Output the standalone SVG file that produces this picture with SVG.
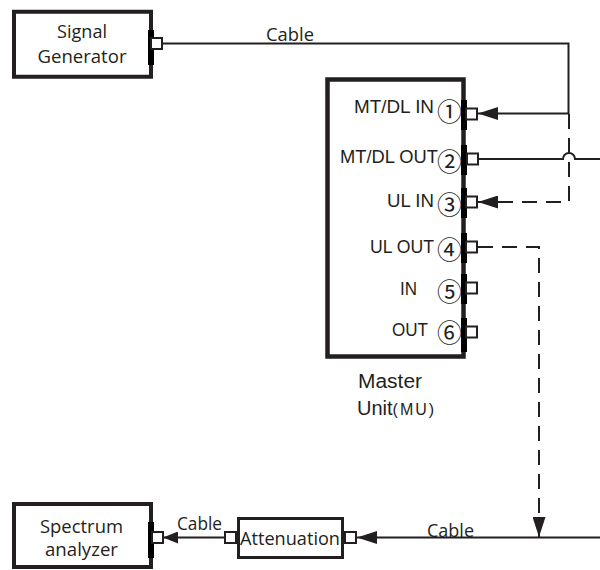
<svg xmlns="http://www.w3.org/2000/svg" width="600" height="570" viewBox="0 0 600 570">
<style>
.box{fill:#fff;stroke:#231f20;stroke-width:4}
.thin{fill:#fff;stroke:#231f20;stroke-width:3}
.port{fill:#fff;stroke:#231f20;stroke-width:2}
.bar{fill:#000}
.ln{fill:none;stroke:#231f20;stroke-width:2}
.dash{fill:none;stroke:#231f20;stroke-width:2;stroke-dasharray:15 9}
.t{font-family:"Open Sans","Liberation Sans",sans-serif;font-size:18px;fill:#231f20}
.a{font-family:"Liberation Sans",Arial,sans-serif;font-size:17.5px;fill:#231f20;text-anchor:end}
.n{font-family:"Noto Sans CJK SC","DejaVu Sans",sans-serif;font-size:25px;fill:#231f20;text-anchor:middle;dominant-baseline:central}
.m{font-family:"Liberation Sans",Arial,sans-serif;font-size:20px;fill:#231f20}
</style>
<defs>
<marker id="arr" markerUnits="userSpaceOnUse" markerWidth="20" markerHeight="13" refX="20" refY="6.5" orient="auto">
<path d="M0,0 L20,6.5 L0,13 z" fill="#231f20"/>
</marker>
<marker id="arrS" markerUnits="userSpaceOnUse" markerWidth="15" markerHeight="12" refX="15" refY="6" orient="auto">
<path d="M0,0 L15,6 L0,12 z" fill="#231f20"/>
</marker>
</defs>

<g id="connectors">
<path class="ln" d="M162,43.5 H568.5 V113.5 H478" marker-end="url(#arr)"/>
<path class="ln" d="M478,159 H563 A6,6 0 0 1 575,159 H600"/>
<path class="dash" d="M569,114 V202 H478" marker-end="url(#arr)"/>
<path class="dash" d="M478,247 H539 V537" marker-end="url(#arr)"/>
<path class="ln" d="M600,537.5 H357" marker-end="url(#arr)"/>
<path class="ln" d="M225,537.5 H163" marker-end="url(#arrS)"/>
</g>

<g id="signal-generator">
<rect class="box" x="14" y="11.75" width="137" height="65"/>
<rect class="bar" x="148" y="30" width="6" height="35"/>
<rect class="port" x="151" y="38" width="11" height="11"/>
<text class="t" x="82" y="37.5" text-anchor="middle" textLength="50" lengthAdjust="spacingAndGlyphs">Signal</text>
<text class="t" x="82" y="63" text-anchor="middle" textLength="89" lengthAdjust="spacingAndGlyphs">Generator</text>
</g>

<g id="master-unit">
<rect class="box" x="327.5" y="79.5" width="136" height="277" style="stroke-width:4.5"/>
<rect class="bar" x="461" y="100" width="6" height="30"/>
<rect class="bar" x="461" y="145" width="6" height="30"/>
<rect class="bar" x="461" y="188" width="6" height="30"/>
<rect class="bar" x="461" y="233" width="6" height="30"/>
<rect class="bar" x="461" y="274" width="6" height="30"/>
<rect class="bar" x="461" y="318" width="6" height="34"/>
<rect class="port" x="466" y="108.5" width="11" height="11"/>
<rect class="port" x="467" y="153.5" width="11" height="11"/>
<rect class="port" x="466" y="196.5" width="11" height="11"/>
<rect class="port" x="466" y="241.5" width="11" height="11"/>
<rect class="port" x="466" y="282.5" width="11" height="11"/>
<rect class="port" x="466" y="326.5" width="11" height="11"/>
<text class="a" x="434" y="113" textLength="80" lengthAdjust="spacingAndGlyphs">MT/DL IN</text>
<text class="a" x="438" y="163" textLength="98" lengthAdjust="spacingAndGlyphs">MT/DL OUT</text>
<text class="a" x="434" y="207" textLength="47" lengthAdjust="spacingAndGlyphs">UL IN</text>
<text class="a" x="434" y="253" textLength="64" lengthAdjust="spacingAndGlyphs">UL OUT</text>
<text class="a" x="417" y="295" textLength="17" lengthAdjust="spacingAndGlyphs">IN</text>
<text class="a" x="428" y="336" textLength="36" lengthAdjust="spacingAndGlyphs">OUT</text>
<text class="n" x="449.5" y="109.5">①</text>
<text class="n" x="449.5" y="160">②</text>
<text class="n" x="449.5" y="202.5">③</text>
<text class="n" x="449.5" y="247.5">④</text>
<text class="n" x="449.5" y="290">⑤</text>
<text class="n" x="449.5" y="331">⑥</text>
<text class="m" x="358" y="388" textLength="64" lengthAdjust="spacingAndGlyphs">Master</text>
<text class="m" x="357" y="415">Unit<tspan style="font-size:16px;letter-spacing:2px">(MU)</tspan></text>
</g>

<g id="attenuation">
<rect class="thin" x="238.5" y="518.5" width="104" height="39"/>
<rect class="port" x="225" y="532" width="11" height="11"/>
<rect class="port" x="345" y="532" width="11" height="11"/>
<text class="t" x="240" y="545" textLength="100" lengthAdjust="spacingAndGlyphs">Attenuation</text>
</g>

<g id="spectrum-analyzer">
<rect class="box" x="14" y="504" width="137" height="63"/>
<rect class="bar" x="148" y="522" width="6" height="36"/>
<rect class="port" x="152" y="532" width="11" height="11"/>
<text class="t" x="81.5" y="533" text-anchor="middle" textLength="83" lengthAdjust="spacingAndGlyphs">Spectrum</text>
<text class="t" x="81.5" y="556" text-anchor="middle" textLength="73" lengthAdjust="spacingAndGlyphs">analyzer</text>
</g>

<g id="labels">
<text class="t" x="266" y="41" textLength="48" lengthAdjust="spacingAndGlyphs">Cable</text>
<text class="t" x="177" y="530" textLength="45" lengthAdjust="spacingAndGlyphs">Cable</text>
<text class="t" x="427" y="537" textLength="47" lengthAdjust="spacingAndGlyphs">Cable</text>
</g>
</svg>
